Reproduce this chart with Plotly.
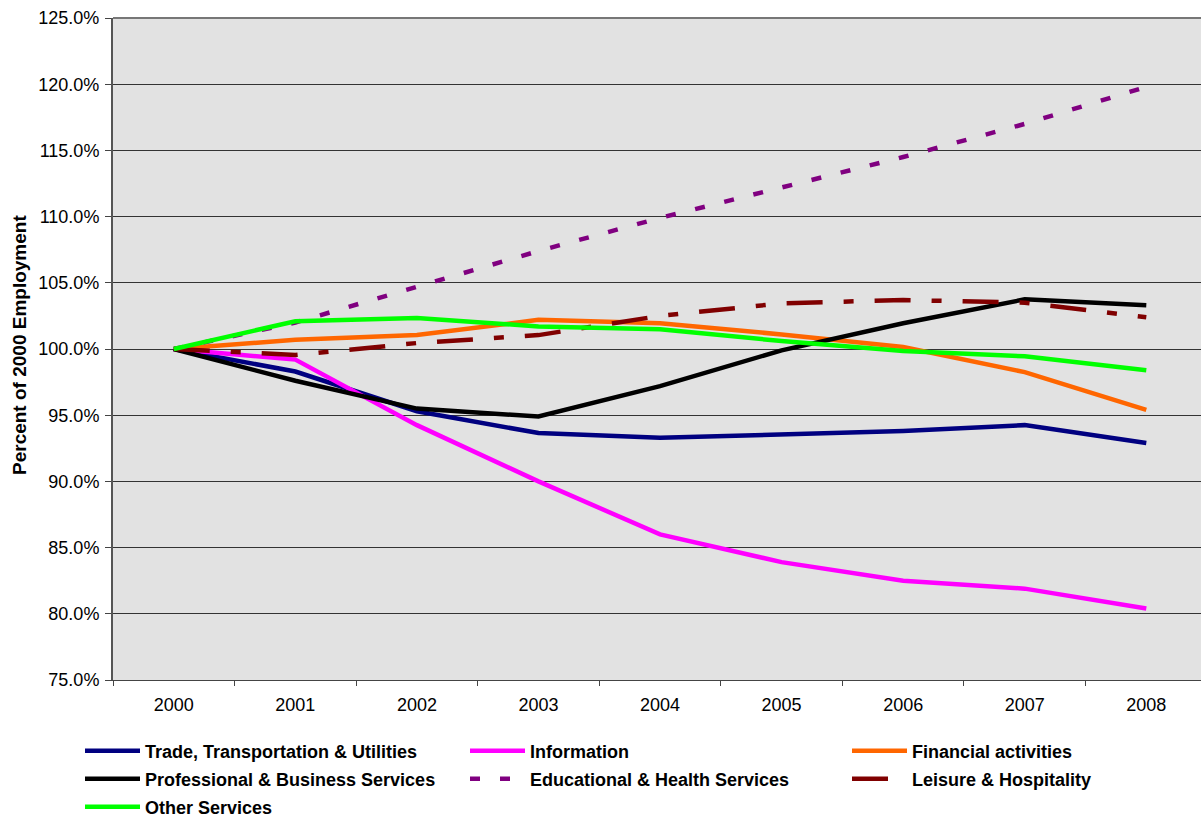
import plotly.graph_objects as go

years = ["2000", "2001", "2002", "2003", "2004", "2005", "2006", "2007", "2008"]
trade = [100.0, 98.3, 95.3, 93.65, 93.3, 93.55, 93.8, 94.25, 92.9]
information = [100.0, 99.2, 94.25, 90.0, 86.0, 83.9, 82.5, 81.9, 80.4]
financial = [100.0, 100.7, 101.05, 102.2, 101.95, 101.1, 100.15, 98.25, 95.4]
professional = [100.0, 97.6, 95.5, 94.9, 97.2, 99.9, 101.95, 103.75, 103.3]
educational = [100.0, 102.0, 104.7, 107.4, 109.9, 112.2, 114.5, 117.0, 119.8]
leisure = [100.0, 99.55, 100.45, 101.05, 102.5, 103.45, 103.7, 103.5, 102.4]
other = [100.0, 102.1, 102.35, 101.7, 101.5, 100.6, 99.85, 99.45, 98.4]
yticks = [75, 80, 85, 90, 95, 100, 105, 110, 115, 120, 125]

# (name, values, colour, dash)
series = [
    ("Trade, Transportation & Utilities", trade, "#000080", "solid"),
    ("Information", information, "#FF00FF", "solid"),
    ("Financial activities", financial, "#FF6600", "solid"),
    ("Professional & Business Services", professional, "#000000", "solid"),
    ("Educational & Health Services", educational, "#800080", "10px,20px"),
    ("Leisure & Hospitality", leisure, "#800000", "36px,21px,10px,21px"),
    ("Other Services", other, "#00FF00", "solid"),
]

FONT = "Liberation Sans, Arial, sans-serif"
col_x = [80, 465, 847]
row_y = [751, 779, 807]

xs = list(range(len(years)))
fig = go.Figure()
legend_layouts = {}
for i, (name, vals, color, dash) in enumerate(series):
    lg = "legend" if i == 0 else f"legend{i + 1}"
    fig.add_trace(go.Scatter(
        x=xs, y=vals, name=name, mode="lines", legend=lg,
        line=dict(color=color, width=4.5, dash=dash),
    ))
    legend_layouts[lg] = dict(
        orientation="h", xref="container", yref="container",
        x=col_x[i % 3] / 1201, xanchor="left",
        y=1 - row_y[i // 3] / 818, yanchor="middle",
        itemwidth=55,
        font=dict(size=18, family=FONT, weight="bold", color="black"),
        bgcolor="rgba(0,0,0,0)",
    )

fig.update_layout(
    width=1201, height=818,
    margin=dict(l=113, r=0, t=18, b=138),
    paper_bgcolor="white",
    plot_bgcolor="#e2e2e2",
    font=dict(family=FONT, color="black"),
    showlegend=True,
    **legend_layouts,
)

fig.update_xaxes(
    range=[-0.5, 8.45],
    tickvals=xs, ticktext=years, ticks="",
    tickfont=dict(size=18),
    showgrid=False, zeroline=False,
    showline=True, linecolor="#444", linewidth=1,
    minor=dict(tickvals=[i - 0.5 for i in range(10)], ticks="outside",
               ticklen=5, tickcolor="#444", showgrid=False),
    ticklabelstandoff=8,
)
fig.update_yaxes(
    range=[75, 125],
    tickvals=yticks, ticktext=[f"{v:.1f}%" for v in yticks],
    ticks="outside", ticklen=6, tickcolor="#444",
    tickfont=dict(size=18),
    ticklabelstandoff=2,
    showgrid=True, gridcolor="#333", gridwidth=1,
    zeroline=False,
    showline=True, linecolor="#555", linewidth=2, mirror=False,
)
fig.add_annotation(
    text="<b>Percent of 2000 Employment</b>", textangle=-90,
    xref="paper", yref="paper", x=(19 - 113) / 1088, y=(680 - 345) / 662,
    xanchor="center", yanchor="middle", showarrow=False,
    font=dict(size=19, family=FONT, color="black"),
)
# top border
fig.add_shape(type="line", xref="paper", yref="paper", x0=0, x1=1, y0=1, y1=1,
              line=dict(color="#777", width=2))

fig.write_html("out.html")
